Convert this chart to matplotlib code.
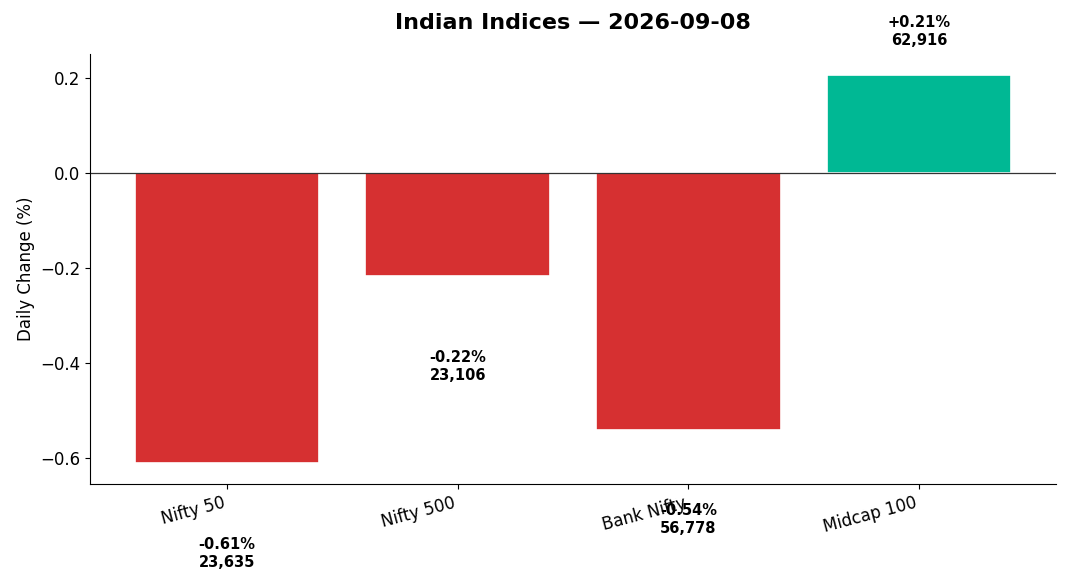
import matplotlib
matplotlib.use('Agg')
import matplotlib.pyplot as plt
import numpy as np

names = ['Nifty 50', 'Nifty 500', 'Bank Nifty', 'Midcap 100']
changes = [-0.61, -0.217, -0.54, 0.206]
pct_labels = ['-0.61%', '-0.22%', '-0.54%', '+0.21%']
closes = ['23,635', '23,106', '56,778', '62,916']

fig, ax = plt.subplots(figsize=(10.68, 5.84), dpi=100)
fig.subplots_adjust(left=0.0843, right=0.9888, top=0.9075, bottom=0.171)

x = np.arange(len(names))
colors = ['#00b894' if v > 0 else '#d63031' for v in changes]
ax.bar(x, changes, width=0.8, color=colors, edgecolor='white', linewidth=1.2)
ax.axhline(0, color='#333333', linewidth=0.9)

for xi, v, p, c in zip(x, changes, pct_labels, closes):
    y = v + 0.091 if v > 0 else v - 0.19
    ax.text(xi, y, p + '\n' + c, ha='center', va='center',
            fontsize=10.5, fontweight='bold', linespacing=1.25)

ax.set_xticks(x)
ax.set_xticklabels(names, rotation=15, ha='right', fontsize=12)
ax.tick_params(axis='y', labelsize=12)
ax.set_xlim(-0.594, 3.594)
ax.set_ylim(-0.655, 0.2505)
ax.set_ylabel('Daily Change (%)', fontsize=12)
ax.set_title('Indian Indices — 2026-09-08', fontsize=16, fontweight='bold', pad=18)
ax.spines['top'].set_visible(False)
ax.spines['right'].set_visible(False)

plt.savefig('out.png', dpi=100)
